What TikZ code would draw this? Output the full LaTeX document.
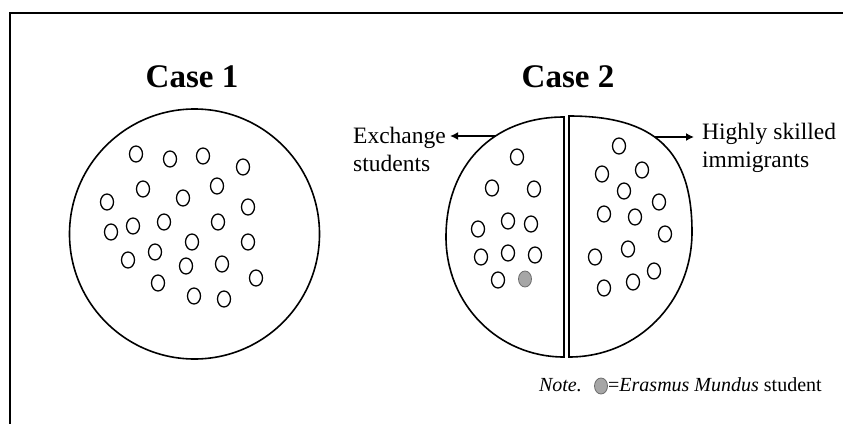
\documentclass[tikz,border=0pt]{standalone}
\usepackage{fontspec}
\setmainfont{Liberation Serif}
\usetikzlibrary{shapes.geometric,arrows.meta}
\begin{document}
\begin{tikzpicture}[x=1pt,y=-1pt,
  outline/.style={line width=1.6pt,black},
  dot/.style={draw=black,line width=1.3pt,ellipse,minimum width=13pt,minimum height=16pt,inner sep=0pt},
  erasmus/.style={draw=gray!85!black,fill=gray!70,line width=0.8pt,ellipse,minimum width=13pt,minimum height=16pt,inner sep=0pt},
  title/.style={font=\fontsize{33}{38}\selectfont\bfseries,anchor=base},
  label/.style={font=\fontsize{23.5}{28}\selectfont,anchor=base west,inner sep=0pt},
  notetext/.style={font=\fontsize{20}{24}\selectfont,anchor=base west,inner sep=0pt},
  pointer/.style={-{Latex[length=8pt,width=8pt]},line width=1.5pt}]
\useasboundingbox (0,0) rectangle (843,423);
\fill[white] (0,0) rectangle (843,423);
% frame (open to the right and bottom)
\draw[line width=2pt] (9.5,430) -- (9.5,12.5) -- (850,12.5);

% titles
\node[title] (t1) at (192,87) {Case 1};
\node[title] (t2) at (568,87) {Case 2};

% case 1: one population
\draw[outline] (194.5,234) circle (125);
\foreach \x/\y [count=\i] in {136/154,170/159,203/156,243/167,143/189,217/186,183/198,107/202,
  248/207,111/232,133/226,164/222,218/222,192/242,248/242,155/252,128/260,186/266,222/264,
  256/278,158/283,194/296,224/299}
  \node[dot] (a\i) at (\x,\y) {};

% case 2: the population split into two halves
\draw[outline] (564,357) -- (564,117)
  .. controls (493,117) and (446,165) .. (446,237)
  .. controls (446,304) and (498,357) .. (564,357) -- cycle;
\draw[outline] (569,357) -- (569,116)
  .. controls (655,116) and (692,151) .. (692,232)
  .. controls (692,302) and (638,357) .. (569,357) -- cycle;

\foreach \x/\y [count=\i] in {517/157,492/188,534/189,478/229,508/221,531/224,481/257,508/253,
  535/255,498/280}
  \node[dot] (b\i) at (\x,\y) {};
\node[erasmus] (em) at (525,279) {};

\foreach \x/\y [count=\i] in {619/146,602/174,642/170,624/191,659/202,604/214,635/217,665/234,
  628/249,595/257,654/271,633/282,604/288}
  \node[dot] (c\i) at (\x,\y) {};

% side labels
\node[label] (ex1) at (353,143) {Exchange};
\node[label] (ex2) at (353,171) {students};
\coordinate (exarc) at (495,136);
\draw[pointer] (exarc) -- ([xshift=4pt]ex1.east |- exarc);
\node[label] (hs1) at (702,139) {Highly skilled};
\node[label] (hs2) at (702,167) {immigrants};
\coordinate (hsarc) at (655,137);
\draw[pointer] (hsarc) -- ([xshift=-8pt]hs1.west |- hsarc);

% note
\node[notetext,anchor=base east] (n1) at (582,391) {\textit{Note.}};
\node[erasmus] (nk) at (601,386) {};
\node[notetext] (n2) at (608,391) {=\textit{Erasmus Mundus} student};
\end{tikzpicture}
\end{document}
